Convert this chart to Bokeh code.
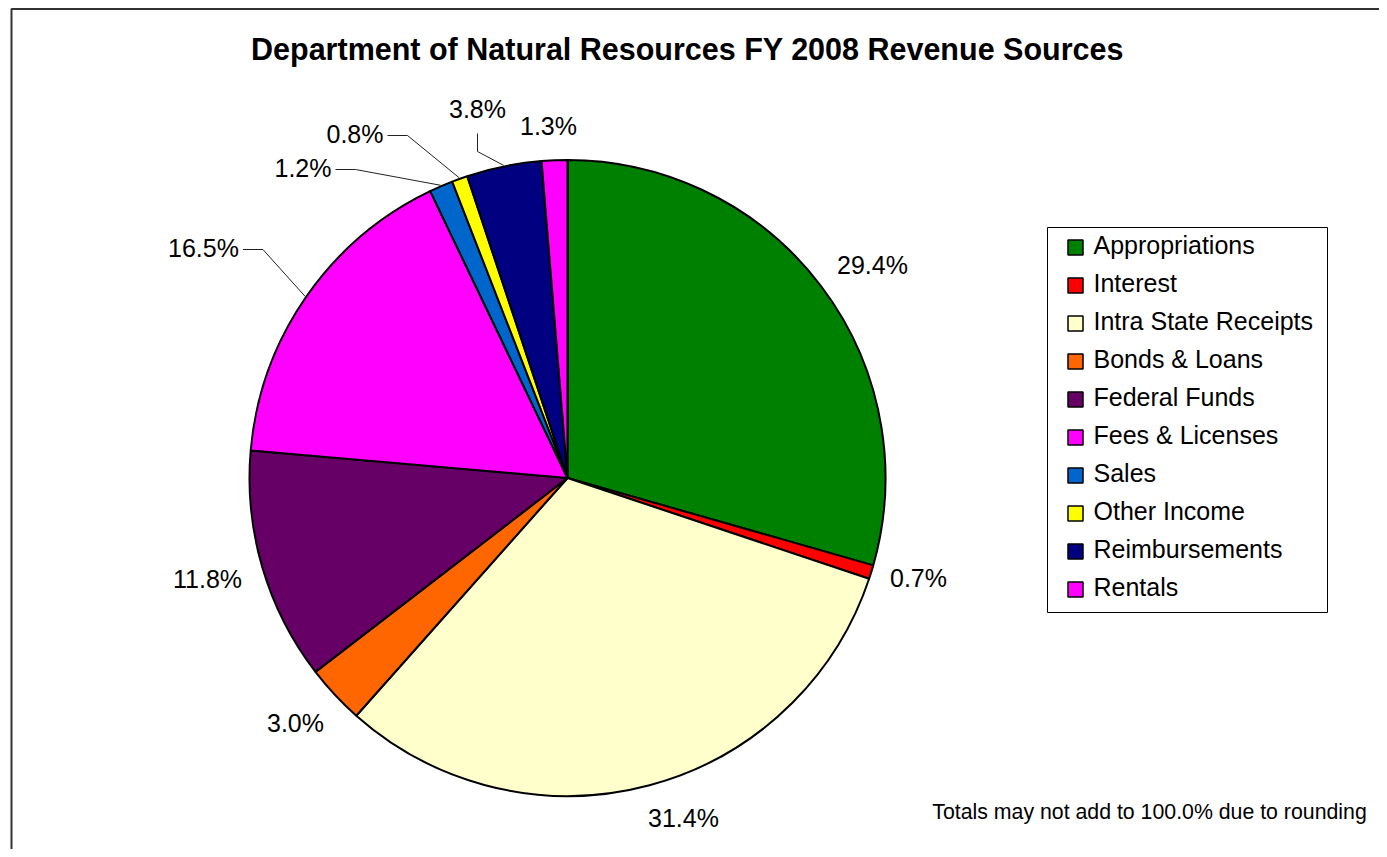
import numpy as np
from bokeh.plotting import figure
from bokeh.models import Range1d, ColumnDataSource
from bokeh.core.properties import value
from bokeh.embed import file_html
from bokeh.resources import INLINE

# ---------------- data ----------------
categories = ["Appropriations", "Interest", "Intra State Receipts", "Bonds & Loans",
              "Federal Funds", "Fees & Licenses", "Sales", "Other Income",
              "Reimbursements", "Rentals"]
shares = [29.4, 0.7, 31.4, 3.0, 11.8, 16.5, 1.2, 0.8, 3.8, 1.3]
colors = ["#008000", "#FF0000", "#FFFFCC", "#FF6600", "#660066",
          "#FF00FF", "#0066CC", "#FFFF00", "#000080", "#FF00FF"]
title_text = "Department of Natural Resources FY 2008 Revenue Sources"
note_text = "Totals may not add to 100.0% due to rounding"

# ---------------- layout (picture pixels) ----------------
W, H = 1379, 849
CX, CY, R = 567, 477.5, 318
FONT = "Liberation Sans"
LABEL_SIZE = 25
# label centre offsets from the pie centre (dx right, dy down)
LABEL_OFFSETS = [(305, -213.5), (351, 99.5), (116, 339.5), (-272, 244.5),
                 (-360, 100.5), (-364, -230.5), (-264.5, -310.5), (-212.5, -344.5),
                 (-90, -369.5), (-19, -352.5)]
# categories whose labels are joined to the pie by a leader line: "left" or "below"
LEADERS = {"Fees & Licenses": "left", "Sales": "left", "Other Income": "left",
           "Reimbursements": "below"}
LEG_LEFT, LEG_TOP, LEG_RIGHT, LEG_BOTTOM = 1047, 227, 1327, 612
LEG_ROW0, LEG_PITCH, LEG_SQ_X, LEG_TXT_X, LEG_SQ = 247, 38, 1075, 1093, 15


def Y(py):
    return -py


p = figure(width=W, height=H, x_range=Range1d(0, W), y_range=Range1d(-H, 0),
           output_backend="svg", toolbar_location=None, min_border=0,
           x_axis_type=None, y_axis_type=None)
p.grid.visible = False
p.outline_line_color = None
p.background_fill_color = "white"
p.border_fill_color = "white"

# chart-area frame
p.quad(left=11, right=W + 60, top=Y(8.5), bottom=Y(H + 60), fill_color=None,
       line_color="#333333", line_width=2)

# ---------------- pie ----------------
vals = np.array(shares, dtype=float)
frac = vals / vals.sum()
c1 = np.cumsum(frac)
c0 = c1 - frac
src = ColumnDataSource(dict(cat=categories, val=vals, color=colors,
                            start=np.pi / 2 - 2 * np.pi * c1,
                            end=np.pi / 2 - 2 * np.pi * c0))
p.wedge(x=CX, y=Y(CY), radius=R, start_angle="start", end_angle="end",
        fill_color="color", line_color="black", line_width=2, source=src)

# ---------------- data labels ----------------
labels = [f"{v:.1f}%" for v in shares]
lx = [CX + dx for dx, dy in LABEL_OFFSETS]
ly = [CY + dy for dx, dy in LABEL_OFFSETS]
p.text(x=lx, y=[Y(v) for v in ly], text=labels, text_align="center",
       text_baseline="middle", text_font=value(FONT),
       text_font_size=value(f"{LABEL_SIZE}px"), text_color="black")

# leader lines
em = {"0": .556, "1": .556, "2": .556, "3": .556, "4": .556, "5": .556, "6": .556,
      "7": .556, "8": .556, "9": .556, ".": .278, "%": .889}
mid = np.pi * (c0 + c1)
xs, ys = [], []
for i, cat in enumerate(categories):
    if cat not in LEADERS:
        continue
    ex = CX + (R + 1) * np.sin(mid[i])
    ey = CY - (R + 1) * np.cos(mid[i])
    if LEADERS[cat] == "left":
        hw = sum(em[ch] for ch in labels[i]) * LABEL_SIZE / 2
        sx, sy = lx[i] + hw + 4, ly[i] + 2
        bx, by = sx + 20, sy
    else:
        sx, sy = lx[i], ly[i] + 25
        bx, by = sx, sy + 18
    xs.append([sx, bx, ex])
    ys.append([Y(sy), Y(by), Y(ey)])
p.multi_line(xs=xs, ys=ys, line_color="#222222", line_width=1)

# ---------------- title & note ----------------
p.text(x=[687], y=[Y(48)], text=[title_text], text_align="center", text_baseline="middle",
       text_font=value(FONT), text_font_size=value("30.5px"), text_font_style="bold",
       text_color="black")
p.text(x=[1149], y=[Y(811)], text=[note_text], text_align="center", text_baseline="middle",
       text_font=value(FONT), text_font_size=value("21.3px"), text_color="black")

# ---------------- legend ----------------
p.quad(left=LEG_LEFT, right=LEG_RIGHT, top=Y(LEG_TOP), bottom=Y(LEG_BOTTOM),
       fill_color="white", line_color="black", line_width=1)
rows = [LEG_ROW0 + LEG_PITCH * i for i in range(len(categories))]
p.rect(x=[LEG_SQ_X] * len(categories), y=[Y(r) for r in rows], width=LEG_SQ, height=LEG_SQ,
       fill_color=colors, line_color="black", line_width=1.5)
p.text(x=[LEG_TXT_X] * len(categories), y=[Y(r - 3) for r in rows], text=categories,
       text_align="left", text_baseline="middle", text_font=value(FONT),
       text_font_size=value("25px"), text_color="black")

open("out.html", "w").write(file_html(p, INLINE))
